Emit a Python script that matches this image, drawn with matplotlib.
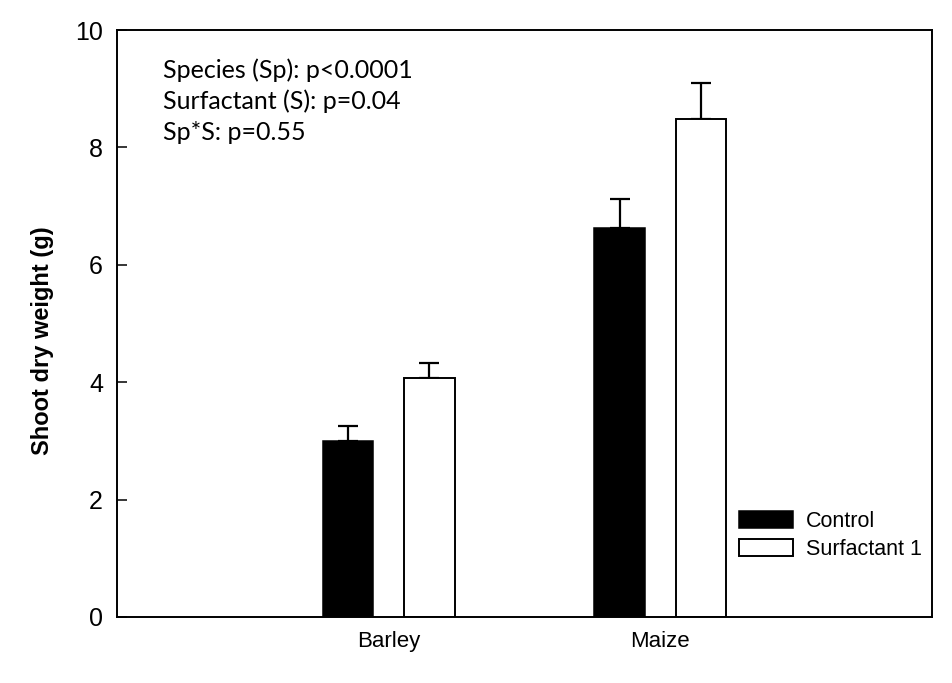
import matplotlib.pyplot as plt
import numpy as np

species = ["Barley", "Maize"]
control = [2.99, 6.62]
control_err = [0.27, 0.50]
surfactant = [4.07, 8.48]
surfactant_err = [0.26, 0.62]
stats_lines = ["Species (Sp): p<0.0001", "Surfactant (S): p=0.04", "Sp*S: p=0.55"]

plt.rcParams['font.family'] = ['Liberation Sans', 'DejaVu Sans']

fig = plt.figure(figsize=(9.52, 6.83), dpi=100)
ax = fig.add_axes([117/952, 66/683, 815/952, 587/683])

x = np.arange(1, len(species) + 1)
w = 0.185
off = 0.15

ax.bar(x - off, control, w, color='black', edgecolor='black', linewidth=1.1,
       label='Control', zorder=2)
ax.bar(x + off, surfactant, w, color='white', edgecolor='black', linewidth=1.4,
       label='Surfactant 1', zorder=2)
ax.errorbar(x - off, control, yerr=[np.zeros(len(control)), control_err], fmt='none',
            ecolor='black', elinewidth=1.6, capsize=7, capthick=1.6, zorder=1)
ax.errorbar(x + off, surfactant, yerr=[np.zeros(len(surfactant)), surfactant_err], fmt='none',
            ecolor='black', elinewidth=1.6, capsize=7, capthick=1.6, zorder=1)

ax.set_xlim(0, 3)
ax.set_ylim(0, 10)
ax.set_xticks(x)
ax.set_xticklabels(species, fontsize=16)
ax.set_yticks([0, 2, 4, 6, 8, 10])
ax.tick_params(axis='x', length=0, pad=10)
ax.tick_params(axis='y', direction='in', length=7, width=1.1, labelsize=18, pad=10)
for s in ax.spines.values():
    s.set_linewidth(1.4)

ax.set_ylabel("Shoot dry weight (g)", fontsize=17, fontweight='bold')
ax.yaxis.set_label_coords(-0.077, 0.47)

for i, t in enumerate(stats_lines):
    ax.text(0.056, 0.932 - i * 0.0537, t, transform=ax.transAxes, fontsize=18,
            family=['Lato', 'DejaVu Sans'], va='center', ha='left')

ax.legend(loc='upper left', bbox_to_anchor=(0.763, 0.181), frameon=False,
          fontsize=15.5, handlelength=2.5, handleheight=0.85, handletextpad=0.6,
          labelspacing=0.33, borderpad=0, borderaxespad=0)

fig.savefig("out.png", dpi=100)
